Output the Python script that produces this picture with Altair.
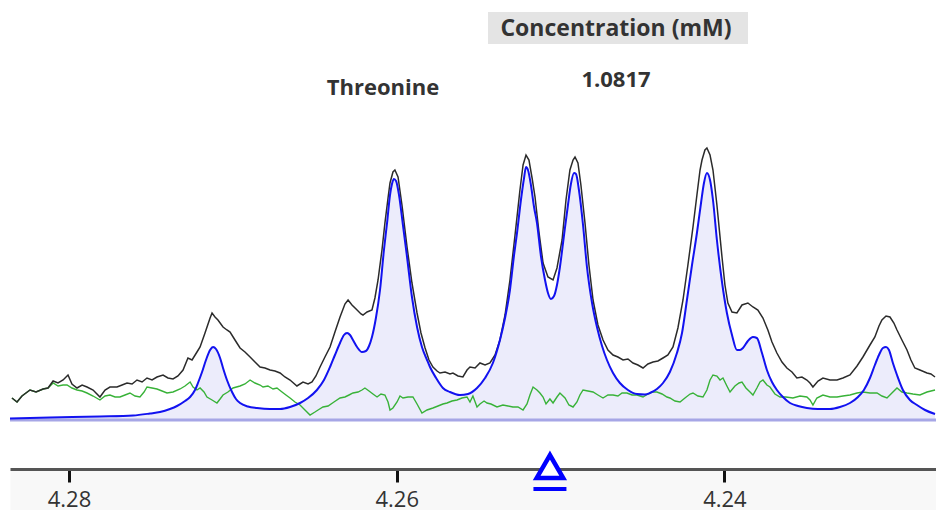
import altair as alt
import pandas as pd

# ---------------- data (chemical shift in ppm, intensity in arbitrary units) ----------------
spectrum_ppm = [
    4.28348, 4.28317, 4.28287, 4.28238, 4.28201, 4.28158, 4.28128, 4.28097, 4.28067, 4.28036,
    4.28006, 4.27982, 4.27951, 4.27920, 4.27890, 4.27853, 4.27811, 4.27780, 4.27750, 4.27707,
    4.27676, 4.27646, 4.27615, 4.27585, 4.27554, 4.27524, 4.27493, 4.27463, 4.27426, 4.27396,
    4.27365, 4.27335, 4.27304, 4.27274, 4.27249, 4.27219, 4.27200, 4.27170, 4.27139, 4.27127,
    4.27109, 4.27091, 4.27060, 4.27036, 4.27017, 4.26987, 4.26956, 4.26926, 4.26895, 4.26865,
    4.26834, 4.26804, 4.26773, 4.26743, 4.26712, 4.26682, 4.26651, 4.26609, 4.26572, 4.26541,
    4.26517, 4.26493, 4.26468, 4.26438, 4.26407, 4.26377, 4.26346, 4.26316, 4.26297, 4.26273,
    4.26242, 4.26218, 4.26206, 4.26181, 4.26151, 4.26133, 4.26114, 4.26090, 4.26072, 4.26053,
    4.26041, 4.26023, 4.26011, 4.25992, 4.25968, 4.25937, 4.25907, 4.25876, 4.25852, 4.25827,
    4.25803, 4.25779, 4.25754, 4.25736, 4.25705, 4.25675, 4.25657, 4.25626, 4.25596, 4.25571,
    4.25553, 4.25522, 4.25492, 4.25461, 4.25431, 4.25400, 4.25370, 4.25339, 4.25309, 4.25278,
    4.25248, 4.25229, 4.25211, 4.25193, 4.25174, 4.25156, 4.25132, 4.25107, 4.25077, 4.25046,
    4.25022, 4.24991, 4.24967, 4.24943, 4.24924, 4.24912, 4.24894, 4.24876, 4.24851, 4.24827,
    4.24802, 4.24772, 4.24741, 4.24711, 4.24680, 4.24650, 4.24619, 4.24589, 4.24558, 4.24528,
    4.24497, 4.24467, 4.24436, 4.24406, 4.24375, 4.24345, 4.24314, 4.24284, 4.24253, 4.24223,
    4.24192, 4.24168, 4.24149, 4.24137, 4.24119, 4.24107, 4.24088, 4.24070, 4.24046, 4.24015,
    4.23997, 4.23979, 4.23954, 4.23924, 4.23893, 4.23857, 4.23826, 4.23796, 4.23765, 4.23735,
    4.23710, 4.23680, 4.23649, 4.23619, 4.23588, 4.23558, 4.23527, 4.23497, 4.23478, 4.23460,
    4.23429, 4.23399, 4.23356, 4.23313, 4.23277, 4.23234, 4.23191, 4.23155, 4.23112, 4.23082,
    4.23057, 4.23039, 4.23014, 4.22990, 4.22966, 4.22947, 4.22917, 4.22886, 4.22862, 4.22838,
    4.22807, 4.22764, 4.22740, 4.22715,
]
spectrum_int = [
    22, 18, 24, 30, 28, 31, 32, 39, 37, 40,
    45, 36, 32, 35, 33, 30, 23, 30, 33, 33,
    35, 37, 36, 40, 38, 42, 40, 43, 45, 42,
    41, 44, 50, 62, 60, 68, 73, 87, 102, 107,
    103, 100, 93, 90, 88, 80, 72, 68, 63, 58,
    53, 52, 50, 49, 47, 43, 40, 34, 38, 36,
    38, 44, 53, 63, 73, 88, 103, 116, 120, 115,
    110, 106, 105, 108, 110, 122, 140, 170, 197, 222,
    237, 248, 250, 243, 215, 173, 137, 107, 87, 72,
    60, 53, 49, 47, 48, 46, 47, 44, 43, 50,
    53, 52, 57, 55, 57, 65, 80, 105, 140, 185,
    230, 255, 265, 260, 242, 223, 188, 157, 143, 140,
    152, 180, 220, 250, 260, 263, 257, 235, 197, 155,
    120, 95, 80, 70, 65, 63, 60, 61, 57, 55,
    52, 56, 58, 59, 62, 65, 73, 92, 120, 155,
    193, 225, 250, 260, 270, 272, 265, 250, 215, 163,
    135, 117, 108, 107, 115, 117, 113, 110, 102, 90,
    78, 67, 58, 52, 48, 42, 43, 40, 37, 33,
    39, 42, 40, 40, 42, 45, 54, 63, 75, 83,
    94, 100, 104, 103, 97, 90, 80, 70, 60, 52,
    50, 47, 46, 43,
]

residual_ppm = [
    4.28348, 4.28317, 4.28287, 4.28238, 4.28201, 4.28158, 4.28128, 4.28097, 4.28067, 4.28036,
    4.28012, 4.27982, 4.27951, 4.27920, 4.27890, 4.27853, 4.27811, 4.27780, 4.27750, 4.27719,
    4.27689, 4.27658, 4.27628, 4.27597, 4.27567, 4.27542, 4.27524, 4.27493, 4.27463, 4.27432,
    4.27402, 4.27365, 4.27322, 4.27292, 4.27261, 4.27243, 4.27219, 4.27200, 4.27176, 4.27158,
    4.27127, 4.27097, 4.27078, 4.27060, 4.27030, 4.26999, 4.26956, 4.26926, 4.26895, 4.26865,
    4.26834, 4.26816, 4.26786, 4.26755, 4.26731, 4.26700, 4.26676, 4.26651, 4.26621, 4.26590,
    4.26560, 4.26529, 4.26499, 4.26480, 4.26450, 4.26419, 4.26383, 4.26346, 4.26316, 4.26291,
    4.26267, 4.26236, 4.26212, 4.26194, 4.26169, 4.26145, 4.26120, 4.26096, 4.26072, 4.26053,
    4.26041, 4.26023, 4.25998, 4.25980, 4.25962, 4.25931, 4.25901, 4.25876, 4.25846, 4.25815,
    4.25779, 4.25748, 4.25718, 4.25693, 4.25663, 4.25632, 4.25602, 4.25571, 4.25553, 4.25535,
    4.25510, 4.25492, 4.25467, 4.25449, 4.25425, 4.25388, 4.25352, 4.25321, 4.25291, 4.25260,
    4.25229, 4.25205, 4.25187, 4.25168, 4.25144, 4.25126, 4.25107, 4.25089, 4.25065, 4.25046,
    4.25022, 4.25004, 4.24973, 4.24949, 4.24924, 4.24900, 4.24882, 4.24863, 4.24833, 4.24802,
    4.24772, 4.24741, 4.24711, 4.24680, 4.24650, 4.24625, 4.24595, 4.24564, 4.24534, 4.24497,
    4.24467, 4.24442, 4.24412, 4.24381, 4.24351, 4.24333, 4.24302, 4.24271, 4.24241, 4.24210,
    4.24192, 4.24162, 4.24131, 4.24107, 4.24088, 4.24070, 4.24046, 4.24027, 4.24009, 4.23985,
    4.23966, 4.23936, 4.23911, 4.23893, 4.23869, 4.23844, 4.23826, 4.23802, 4.23783, 4.23765,
    4.23741, 4.23722, 4.23692, 4.23661, 4.23625, 4.23582, 4.23539, 4.23497, 4.23478, 4.23460,
    4.23436, 4.23399, 4.23356, 4.23313, 4.23277, 4.23234, 4.23191, 4.23155, 4.23112, 4.23069,
    4.23039, 4.23008, 4.22978, 4.22947, 4.22917, 4.22886, 4.22850, 4.22807, 4.22764, 4.22715,
]
residual_int = [
    22, 18, 24, 30, 28, 31, 32, 37, 34, 35,
    35, 32, 30, 29, 27, 24, 20, 24, 25, 23,
    23, 25, 27, 24, 23, 28, 33, 32, 31, 29,
    27, 28, 31, 34, 38, 33, 30, 32, 28, 23,
    20, 17, 21, 25, 28, 32, 34, 36, 40, 37,
    35, 33, 34, 31, 32, 28, 25, 22, 18, 15,
    10, 5, 8, 10, 13, 14, 18, 22, 23, 25,
    27, 28, 30, 32, 29, 26, 23, 26, 25, 18,
    10, 12, 18, 24, 22, 23, 23, 16, 7, 10,
    12, 14, 16, 17, 19, 20, 22, 23, 18, 24,
    13, 16, 19, 17, 16, 13, 15, 14, 13, 13,
    10, 16, 25, 33, 30, 27, 23, 16, 21, 17,
    23, 27, 22, 15, 13, 18, 25, 30, 29, 28,
    25, 22, 25, 25, 24, 27, 27, 25, 25, 23,
    26, 28, 28, 26, 23, 22, 19, 18, 22, 26,
    27, 24, 23, 30, 40, 45, 44, 40, 42, 34,
    28, 34, 37, 38, 32, 28, 25, 32, 38, 40,
    35, 33, 26, 23, 23, 22, 24, 23, 20, 15,
    22, 25, 23, 23, 24, 25, 27, 28, 27, 27,
    24, 22, 27, 32, 28, 27, 26, 25, 28, 30,
]

fit_ppm = [
    4.28360, 4.28116, 4.27811, 4.27609, 4.27506, 4.27445, 4.27384, 4.27341, 4.27292, 4.27261,
    4.27231, 4.27213, 4.27188, 4.27164, 4.27139, 4.27121, 4.27103, 4.27078, 4.27060, 4.27036,
    4.27005, 4.26981, 4.26956, 4.26908, 4.26853, 4.26773, 4.26712, 4.26651, 4.26590, 4.26541,
    4.26487, 4.26444, 4.26407, 4.26377, 4.26346, 4.26322, 4.26303, 4.26285, 4.26267, 4.26242,
    4.26212, 4.26188, 4.26169, 4.26151, 4.26127, 4.26102, 4.26078, 4.26059, 4.26041, 4.26029,
    4.26017, 4.26004, 4.25986, 4.25962, 4.25937, 4.25907, 4.25876, 4.25846, 4.25815, 4.25797,
    4.25760, 4.25718, 4.25675, 4.25614, 4.25565, 4.25510, 4.25461, 4.25413, 4.25370, 4.25339,
    4.25309, 4.25284, 4.25266, 4.25242, 4.25223, 4.25211, 4.25199, 4.25181, 4.25162, 4.25144,
    4.25120, 4.25095, 4.25077, 4.25059, 4.25040, 4.25022, 4.25004, 4.24979, 4.24955, 4.24937,
    4.24918, 4.24906, 4.24888, 4.24863, 4.24839, 4.24808, 4.24778, 4.24747, 4.24717, 4.24680,
    4.24638, 4.24589, 4.24534, 4.24485, 4.24455, 4.24412, 4.24375, 4.24333, 4.24290, 4.24259,
    4.24229, 4.24198, 4.24168, 4.24143, 4.24125, 4.24107, 4.24088, 4.24070, 4.24046, 4.24015,
    4.23985, 4.23954, 4.23924, 4.23905, 4.23887, 4.23857, 4.23826, 4.23802, 4.23771, 4.23741,
    4.23710, 4.23680, 4.23643, 4.23600, 4.23551, 4.23497, 4.23429, 4.23356, 4.23295, 4.23234,
    4.23185, 4.23149, 4.23112, 4.23082, 4.23057, 4.23033, 4.23014, 4.22996, 4.22972, 4.22947,
    4.22911, 4.22868, 4.22825, 4.22776, 4.22715,
]
fit_int = [
    1.5, 2.5, 3.5, 4.5, 6.5, 8, 11, 14, 19, 23,
    30, 37, 48, 60, 70, 73, 71, 62, 52, 40,
    28, 21, 17, 13.5, 12, 11, 11, 13, 17, 22,
    30, 40, 53, 65, 77, 85, 87, 85, 80, 73,
    68, 69, 74, 83, 102, 130, 170, 197, 225, 236,
    241, 239, 225, 195, 163, 123, 93, 73, 60, 53,
    42, 32, 28, 25, 26, 32, 42, 57, 80, 102,
    130, 165, 187, 220, 242, 253, 250, 235, 213, 197,
    164, 140, 127, 121, 124, 135, 153, 185, 215, 236,
    247, 246, 230, 195, 153, 117, 93, 74, 60, 47,
    37, 30, 26, 25.5, 27, 31, 37, 48, 67, 87,
    120, 155, 187, 217, 237, 247, 240, 220, 180, 138,
    107, 85, 70, 70, 72, 79, 83, 82, 67, 50,
    38, 30, 23, 17, 14, 12, 11, 11, 13, 17,
    23, 30, 42, 55, 65, 72, 73, 70, 57, 45,
    30, 20, 15, 10, 6,
]

tick_values = [4.28, 4.26, 4.24]
x_domain = [4.28360, 4.22709]
y_domain = [-49, 420]
multiplet_center = [4.25065]
compound_name = ["Threonine"]
header_text = ["Concentration (mM)"]
concentration = ["1.0817"]

# ---------------- chart ----------------
W, H = 926, 469
FONT = "Open Sans"

fit_df = pd.DataFrame({"ppm": fit_ppm, "intensity": fit_int})
spec_df = pd.DataFrame({"ppm": spectrum_ppm, "intensity": spectrum_int})
res_df = pd.DataFrame({"ppm": residual_ppm, "intensity": residual_int})
center_df = pd.DataFrame({"ppm": multiplet_center})
name_df = pd.DataFrame({"label": compound_name})
head_df = pd.DataFrame({"label": header_text})
conc_df = pd.DataFrame({"label": concentration})

xs = alt.Scale(domain=x_domain, nice=False, zero=False)
ys = alt.Scale(domain=y_domain, nice=False, zero=False)

strip_axis = alt.Axis(orient="bottom", domainColor="#f8f8f8", domainWidth=41, domainCap="butt",
                      offset=21, ticks=False, labels=False, grid=False, title=None, zindex=0)
main_axis = alt.Axis(orient="bottom", values=tick_values, format=".2f", domainColor="#555555",
                     domainWidth=3, tickColor="#111111", tickWidth=3, tickSize=13,
                     labelFont=FONT, labelFontSize=22, labelColor="#333333", labelPadding=7,
                     labelFlush=False, labelOverlap=False, grid=False, title=None, zindex=0)

area = alt.Chart(fit_df).mark_area(color="#ececfb", opacity=1, interpolate="monotone").encode(
    x=alt.X("ppm:Q", scale=xs, axis=strip_axis),
    y=alt.Y("intensity:Q", scale=ys, axis=None),
    y2=alt.datum(0),
)

baseline = alt.Chart(center_df).mark_rule(color="#a6a6e6", strokeWidth=3).encode(
    y=alt.YDatum(0, scale=ys, axis=None),
)

residual = alt.Chart(res_df).mark_line(color="#38b238", strokeWidth=1.4).encode(
    x=alt.X("ppm:Q", scale=xs, axis=None),
    y=alt.Y("intensity:Q", scale=ys, axis=None),
)

spectrum = alt.Chart(spec_df).mark_line(color="#2b2b2b", strokeWidth=1.5).encode(
    x=alt.X("ppm:Q", scale=xs, axis=main_axis),
    y=alt.Y("intensity:Q", scale=ys, axis=None),
)

fit = alt.Chart(fit_df).mark_line(color="#1212f0", strokeWidth=2, interpolate="monotone").encode(
    x=alt.X("ppm:Q", scale=xs, axis=None),
    y=alt.Y("intensity:Q", scale=ys, axis=None),
)

box = alt.Chart(head_df).mark_rect(color="#e4e4e4").encode(
    x=alt.value(478), x2=alt.value(738), y=alt.value(12), y2=alt.value(44),
)

text_style = dict(font=FONT, fontWeight="bold", color="#333333",
                  align="center", baseline="alphabetic")
head_text = alt.Chart(head_df).mark_text(fontSize=23, **text_style).encode(
    x=alt.value(606), y=alt.value(36), text="label:N")
conc_text = alt.Chart(conc_df).mark_text(fontSize=22, **text_style).encode(
    x=alt.value(606), y=alt.value(87), text="label:N")
name_text = alt.Chart(name_df).mark_text(fontSize=22, **text_style).encode(
    x=alt.value(373), y=alt.value(95), text="label:N")

marker = alt.Chart(center_df).mark_point(shape="triangle-up", size=700, filled=True, fill="white",
                                         fillOpacity=1, stroke="#0000ff", strokeWidth=4.5,
                                         opacity=1).encode(
    x=alt.X("ppm:Q", scale=xs, axis=None),
    y=alt.value(466.5),
)
underline = alt.Chart(center_df).mark_tick(orient="horizontal", size=33, thickness=4,
                                           color="#0000ff", opacity=1).encode(
    x=alt.X("ppm:Q", scale=xs, axis=None),
    y=alt.value(489),
)

chart = alt.layer(
    area, baseline, residual, spectrum, fit, box, head_text, conc_text, name_text, marker, underline
).resolve_scale(x="shared", y="shared").resolve_axis(x="independent").properties(
    width=W, height=H,
    autosize=alt.AutoSizeParams(type="none"),
    padding={"left": 10, "top": 0, "right": 0, "bottom": 41},
    background="white",
).configure_view(stroke=None)

chart.save("out.html", embed_options={"renderer": "svg", "actions": False})
